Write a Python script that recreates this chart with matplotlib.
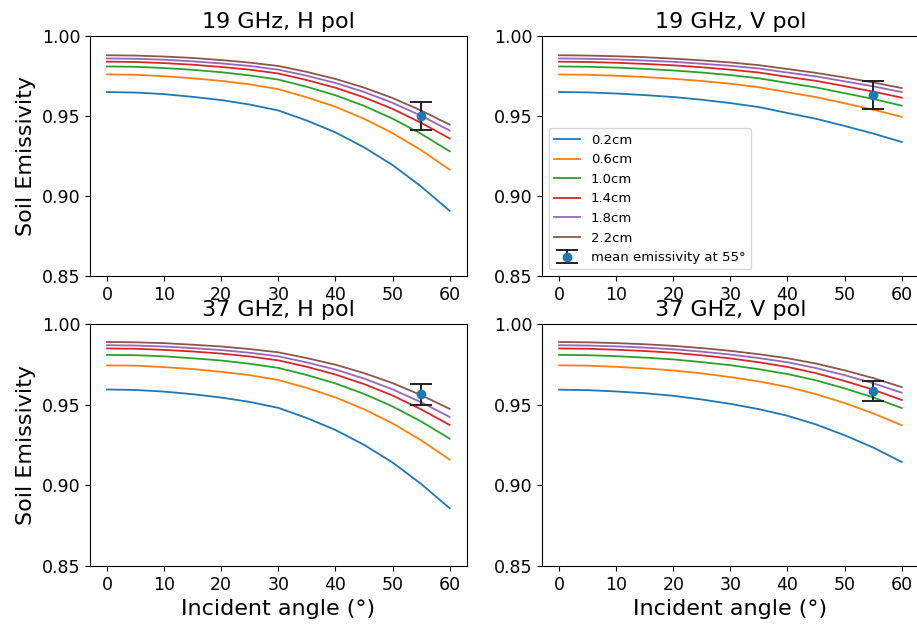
import numpy as np
import matplotlib
matplotlib.use("Agg")
import matplotlib.pyplot as plt

# incidence angles (deg) and roughness labels
angles = [0, 5, 10, 15, 20, 25, 30, 35, 40, 45, 50, 55, 60]
rough_labels = ["0.2cm", "0.6cm", "1.0cm", "1.4cm", "1.8cm", "2.2cm"]

# 19 GHz, H pol
e19h = [
    [.965, .9647, .9637, .9620, .9600, .9572, .9535, .9472, .9398, .9305, .9194, .9060, .8908],
    [.976, .9758, .9749, .9736, .9720, .9698, .9668, .9617, .9558, .9483, .9394, .9287, .9165],
    [.981, .9808, .9800, .9789, .9774, .9754, .9728, .9683, .9630, .9564, .9484, .9389, .9280],
    [.984, .9838, .9831, .9821, .9807, .9790, .9766, .9725, .9677, .9617, .9545, .9458, .9360],
    [.986, .9858, .9852, .9842, .9829, .9813, .9790, .9752, .9707, .9651, .9583, .9502, .9410],
    [.988, .9878, .9872, .9863, .9850, .9834, .9813, .9776, .9732, .9678, .9613, .9535, .9446],
]
# 19 GHz, V pol
e19v = [
    [.965, .9648, .9641, .9631, .9619, .9602, .9581, .9556, .9519, .9483, .9438, .9391, .9338],
    [.976, .9758, .9752, .9744, .9733, .9719, .9702, .9680, .9649, .9618, .9580, .9540, .9495],
    [.981, .9808, .9803, .9795, .9785, .9772, .9756, .9736, .9707, .9679, .9643, .9607, .9565],
    [.984, .9838, .9833, .9826, .9817, .9805, .9790, .9772, .9745, .9720, .9687, .9653, .9615],
    [.986, .9858, .9854, .9847, .9839, .9827, .9814, .9797, .9772, .9748, .9717, .9686, .9650],
    [.988, .9878, .9874, .9868, .9859, .9848, .9835, .9818, .9794, .9770, .9741, .9710, .9675],
]
# 37 GHz, H pol
e37h = [
    [.9595, .9592, .9582, .9566, .9545, .9518, .9481, .9418, .9344, .9252, .9142, .9009, .8858],
    [.9745, .9743, .9734, .9722, .9705, .9684, .9654, .9605, .9546, .9473, .9385, .9280, .9160],
    [.981, .9808, .9801, .9789, .9775, .9755, .9729, .9685, .9633, .9568, .9490, .9397, .9290],
    [.985, .9848, .9841, .9831, .9818, .9800, .9776, .9736, .9688, .9629, .9558, .9472, .9375],
    [.987, .9868, .9862, .9852, .9840, .9823, .9801, .9763, .9719, .9663, .9596, .9516, .9425],
    [.989, .9888, .9883, .9873, .9862, .9846, .9826, .9790, .9749, .9697, .9635, .9560, .9475],
]
# 37 GHz, V pol
e37v = [
    [.9594, .9591, .9583, .9572, .9556, .9533, .9506, .9473, .9432, .9378, .9311, .9235, .9145],
    [.9745, .9743, .9736, .9726, .9713, .9695, .9672, .9645, .9611, .9566, .9511, .9447, .9373],
    [.981, .9808, .9802, .9793, .9782, .9765, .9746, .9721, .9691, .9652, .9602, .9546, .9480],
    [.985, .9848, .9842, .9834, .9823, .9807, .9788, .9764, .9735, .9696, .9648, .9594, .9530],
    [.987, .9868, .9863, .9855, .9845, .9830, .9812, .9790, .9764, .9728, .9684, .9634, .9575],
    [.989, .9888, .9883, .9876, .9866, .9852, .9835, .9814, .9789, .9756, .9714, .9666, .9610],
]

titles = ["19 GHz, H pol", "19 GHz, V pol", "37 GHz, H pol", "37 GHz, V pol"]
# mean emissivity at 55 deg and its error
obs_angle = 55
obs_mean = [0.950, 0.963, 0.9566, 0.9587]
obs_err = [0.0085, 0.0087, 0.0066, 0.0063]

panels = [e19h, e19v, e37h, e37v]

fig, axs = plt.subplots(2, 2, figsize=(9.17, 6.26), dpi=100)
ax = axs.ravel()
# axes boxes (fig fraction) - right column runs slightly off the figure
pos = [[0.098, 0.559, 0.411, 0.3834],
       [0.591, 0.559, 0.411, 0.3834],
       [0.098, 0.096, 0.411, 0.386],
       [0.591, 0.096, 0.411, 0.386]]

for k in range(4):
    a = ax[k]
    a.set_position(pos[k])
    for i in range(len(rough_labels)):
        a.plot(angles, panels[k][i], color="C%d" % i, lw=1.3, label=rough_labels[i],
               solid_joinstyle="round")
    a.errorbar([obs_angle], [obs_mean[k]], yerr=[obs_err[k]], fmt="o", color="C0",
               ecolor="#222222", elinewidth=1.4, capsize=8, capthick=1.4, markersize=6,
               label="mean emissivity at 55°")
    a.set_ylim(0.85, 1.0)
    a.set_xlim(-3, 63)
    a.set_xticks(range(0, 61, 10))
    a.set_yticks([0.85, 0.90, 0.95, 1.00])
    a.set_yticklabels(["0.85", "0.90", "0.95", "1.00"])
    a.tick_params(labelsize=12.5)
    a.set_title(titles[k], fontsize=16)
    if k in (0, 2):
        a.set_ylabel("Soil Emissivity", fontsize=16)
    if k in (2, 3):
        a.set_xlabel("Incident angle (°)", fontsize=16)

ax[1].legend(loc="lower left", fontsize=9.5)

plt.savefig("out.png", dpi=100)
